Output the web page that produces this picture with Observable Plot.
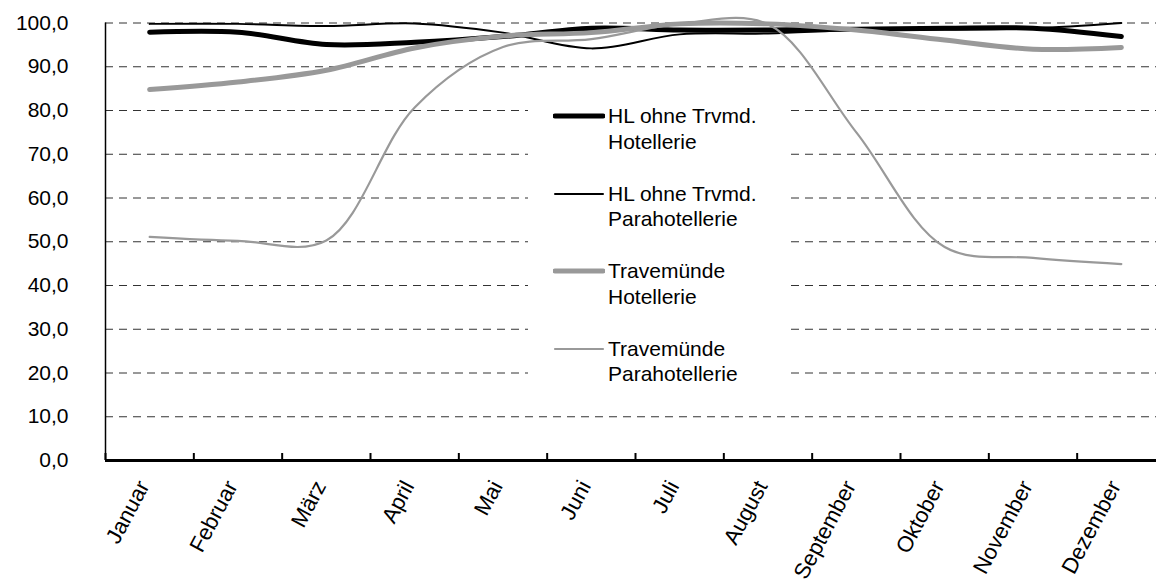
<!DOCTYPE html>
<html>
<head>
<meta charset="utf-8">
<script src="https://cdn.jsdelivr.net/npm/d3@7"></script>
<script src="https://cdn.jsdelivr.net/npm/@observablehq/plot@0.6"></script>
<style>
  html, body { margin: 0; padding: 0; background: #fff; overflow: hidden; }
  #wrap { position: relative; width: 1156px; height: 588px; font-family: "Liberation Sans", Arial, sans-serif; }
  #legend { position: absolute; left: 528px; top: 95px; width: 257px; height: 300px; background: #fff; }
  .entry { position: absolute; left: 0; width: 257px; height: 60px; }
  .entry svg { position: absolute; left: 25px; top: 0; }
  .entry .lbl { position: absolute; left: 80px; top: 0; font-size: 21px; line-height: 25.5px; white-space: pre-line; color: #000; }
</style>
</head>
<body>
<div id="wrap"><div id="chart"></div><div id="legend"></div></div>
<script>
const months = ["Januar","Februar","März","April","Mai","Juni","Juli","August","September","Oktober","November","Dezember"];
const seriesNames = ["HL ohne Trvmd.\nHotellerie", "HL ohne Trvmd.\nParahotellerie", "Travemünde\nHotellerie", "Travemünde\nParahotellerie"];
const hlHotel = [97.9, 97.9, 95.1, 95.6, 96.9, 98.8, 98.4, 98.4, 98.6, 98.8, 98.8, 96.9];
const hlPara  = [99.8, 99.8, 99.3, 99.9, 97.8, 94.2, 97.4, 97.6, 98.4, 98.5, 98.8, 100.0];
const trHotel = [84.8, 86.5, 89.2, 94.3, 97.0, 97.8, 99.8, 99.8, 98.4, 96.1, 94.0, 94.4];
const trPara  = [51.1, 50.2, 50.3, 80.7, 94.5, 96.3, 99.8, 99.7, 75.0, 48.8, 46.3, 44.9];
const yTicks = [0, 10, 20, 30, 40, 50, 60, 70, 80, 90, 100];

const seriesValues = [hlHotel, hlPara, trHotel, trPara];
const styles = [
  {stroke: "#000000", width: 5},
  {stroke: "#000000", width: 2},
  {stroke: "#999999", width: 5},
  {stroke: "#999999", width: 2.2}
];

const rows = seriesValues.flatMap((vals, s) => vals.map((v, i) => ({series: s, month: months[i], pos: i + 0.5, value: v})));
const boundaries = d3.range(months.length + 1);

const chart = Plot.plot({
  width: 1156,
  height: 588,
  marginLeft: 105, marginRight: 0, marginTop: 22, marginBottom: 128,
  x: {domain: [0, months.length], range: [105, 1165], axis: null},
  y: {domain: [0, 100], range: [460, 22.5]},
  style: {fontFamily: "'Liberation Sans', Arial, sans-serif", fontSize: "21px", color: "#000", background: "#fff", overflow: "visible"},
  marks: [
    Plot.ruleY(yTicks.filter(d => d > 0), {x1: 0, x2: months.length, stroke: "#333", strokeWidth: 1, strokeDasharray: "8,6"}),
    Plot.axisY({ticks: yTicks, tickSize: 0, tickPadding: 37, fontSize: 21, label: null, tickFormat: d => d.toFixed(1).replace(".", ",")}),
    Plot.ruleX([0], {y1: 0, y2: 100, stroke: "#000", strokeWidth: 1.5}),
    Plot.ruleX(boundaries, {y1: 0, y2: 0, insetTop: -7, stroke: "#000", strokeWidth: 2}),
    Plot.ruleY([0], {x1: 0, x2: months.length, stroke: "#000", strokeWidth: 3}),
    ...seriesValues.map((vals, s) => Plot.line(rows.filter(r => r.series === s), {
      x: "pos", y: "value", curve: "catmull-rom",
      stroke: styles[s].stroke, strokeWidth: styles[s].width, strokeLinecap: "round", strokeLinejoin: "round"
    })),
    Plot.text(months, {x: (d, i) => i + 0.5, y: () => 0, text: d => d, rotate: -62, textAnchor: "end", lineAnchor: "middle", dx: -6, dy: 22, fontSize: 22, fill: "#000"})
  ]
});
document.getElementById("chart").appendChild(chart);

const legend = document.getElementById("legend");
seriesNames.forEach((name, s) => {
  const e = document.createElement("div");
  e.className = "entry";
  e.style.top = (8 + s * 77.5) + "px";
  const ns = "http://www.w3.org/2000/svg";
  const svg = document.createElementNS(ns, "svg");
  svg.setAttribute("width", "52"); svg.setAttribute("height", "26");
  const ln = document.createElementNS(ns, "line");
  ln.setAttribute("x1", "2"); ln.setAttribute("x2", "50");
  ln.setAttribute("y1", "13"); ln.setAttribute("y2", "13");
  ln.setAttribute("stroke", styles[s].stroke);
  ln.setAttribute("stroke-width", styles[s].width);
  ln.setAttribute("stroke-linecap", "round");
  svg.appendChild(ln);
  const t = document.createElement("div");
  t.className = "lbl";
  t.textContent = name;
  e.appendChild(svg); e.appendChild(t);
  legend.appendChild(e);
});
</script>
</body>
</html>
